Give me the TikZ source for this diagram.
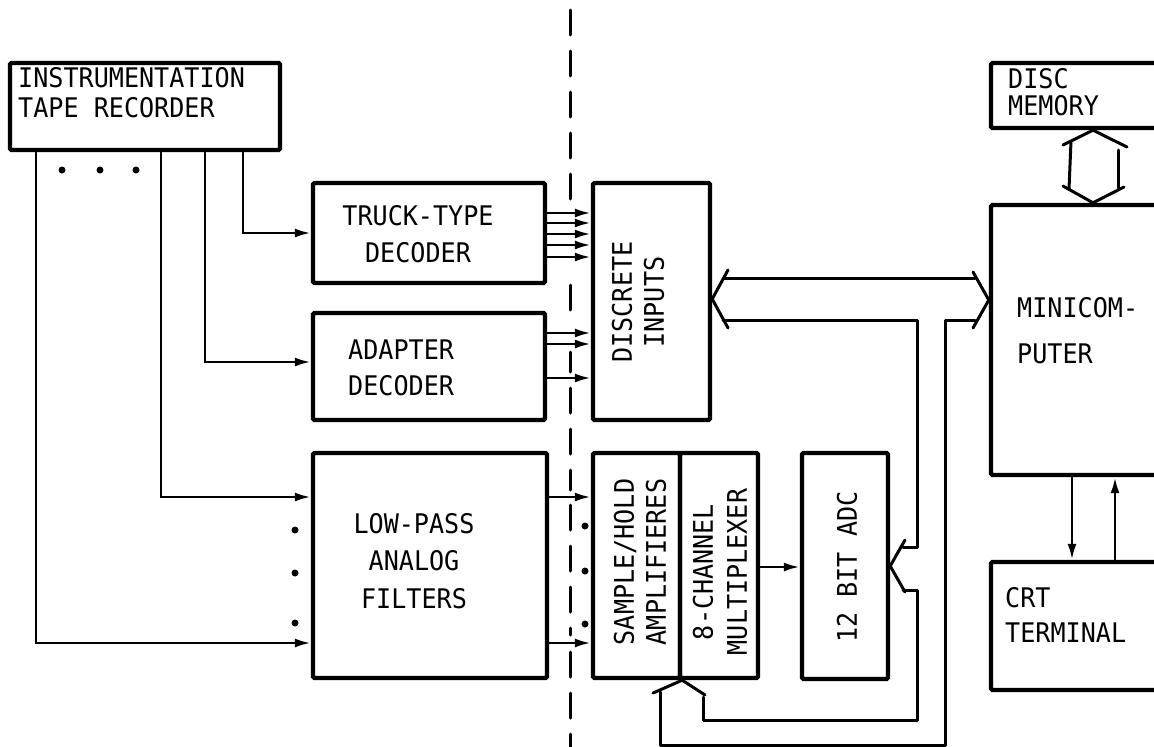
\documentclass[tikz,border=0pt]{standalone}
\usepackage{fontspec}
\setmainfont{DejaVu Sans Mono}[FakeStretch=0.93]
\usetikzlibrary{arrows.meta}

\tikzset{
  blk/.style={draw, line width=4.4pt, rounded corners=1.5pt, inner sep=0pt},
  lbl/.style={inner sep=0pt, font=\fontsize{27pt}{#1pt}\selectfont},
  lbl/.default=36,
  conn/.style={line width=2.6pt, -{Latex[length=16pt,width=9pt]}},
  bus/.style={line width=3pt, line cap=round, line join=round},
  sep/.style={line width=3pt, dash pattern=on 25pt off 16pt, line cap=round},
}

\begin{document}
\begin{tikzpicture}[x=1pt,y=-1pt]
\useasboundingbox (0,0) rectangle (1154,747);
\clip (0,0) rectangle (1154,747);
% blocks
\node[blk, minimum width=270pt, minimum height=87pt] (rec) at (145,106.5) {};
\node[blk, minimum width=232pt, minimum height=100pt] (truck) at (429,233) {};
\node[blk, minimum width=232pt, minimum height=107pt] (adapt) at (429,366.5) {};
\node[blk, minimum width=234pt, minimum height=225pt] (lpf) at (430,565.5) {};
\node[blk, minimum width=117pt, minimum height=237pt] (disc) at (651.5,301.5) {};
\node[blk, minimum width=87pt, minimum height=225pt] (sh) at (636.5,565.5) {};
\node[blk, minimum width=78pt, minimum height=225pt] (mux) at (719,565.5) {};
\node[blk, minimum width=86pt, minimum height=226pt] (adc) at (845,566) {};
\node[blk, minimum width=209pt, minimum height=270pt] (mini) at (1095.5,340) {};
\node[blk, minimum width=209pt, minimum height=65pt] (mem) at (1095.5,95.5) {};
\node[blk, minimum width=209pt, minimum height=128pt] (crt) at (1095.5,626) {};
% texts
\node[lbl=30, anchor=west, align=left] (rec-t) at (18,92.5) {INSTRUMENTATION\\TAPE RECORDER};
\node[lbl=37, align=center] (truck-t) at (418,234.5) {TRUCK-TYPE\\DECODER};
\node[lbl=36, anchor=west, align=left] (adapt-t) at (348,368) {ADAPTER\\DECODER};
\node[lbl=37.5, align=center] (lpf-t) at (414,561) {LOW-PASS\\ANALOG\\FILTERS};
\node[lbl=32, align=center, rotate=90] (disc-t) at (638,302) {DISCRETE\\INPUTS};
\node[lbl=32, align=center, rotate=90] (sh-t) at (640,562) {SAMPLE/HOLD\\AMPLIFIERES};
\node[lbl=34, align=center, rotate=90] (mux-t) at (720,572) {8-CHANNEL\\MULTIPLEXER};
\node[lbl, rotate=90] (adc-t) at (847,567) {12 BIT ADC};
\node[lbl=46, anchor=west, align=left] (mini-t) at (1017,330.5) {MINICOM-\\PUTER};
\node[lbl=27, anchor=west, align=left] (mem-t) at (1008,92) {DISC\\MEMORY};
\node[lbl=35, anchor=west, align=left] (crt-t) at (1005,614.5) {CRT\\TERMINAL};
% tape recorder outputs
\draw[conn] (rec.south -| 243,0) |- (truck.west);
\draw[conn] (rec.south -| 205,0) |- (adapt.west |- 0,362);
\draw[conn] (rec.south -| 161,0) |- (lpf.west |- 0,497);
\draw[conn] (rec.south -| 36,0) |- (lpf.west |- 0,643);
\foreach \x in {62,100,136} \fill (\x,170) circle (3.5pt);
\foreach \y in {530,573,623} \fill (295,\y) circle (3.5pt);
% into the computer interface
\foreach \y in {213,223,234,245,257} \draw[conn] (truck.east |- 0,\y) -- (disc.west |- 0,\y);
\foreach \y in {333,344,378} \draw[conn] (adapt.east |- 0,\y) -- (disc.west |- 0,\y);
\foreach \y in {497,643} \draw[conn] (lpf.east |- 0,\y) -- (sh.west |- 0,\y);
\foreach \y in {526,571,624} \fill (585,\y) circle (3.5pt);
\draw[conn] (mux.east |- 0,567) -- (adc.west |- 0,567);
% interface boundary
\foreach \a/\b in {10/205,285/325,352/372,388/490,505/635,652/747}
  \draw[sep] (570,\a) -- (570,\b);
% data bus
\draw[bus] (728,270) -- (disc.east |- 0,299) -- (728,328);
\draw[bus] (723,278) -- (975,278);
\draw[bus] (973,272) -- (mini.west |- 0,300) -- (973,328);
\draw[bus] (723,320) -- (917,320) -- (917,547) -- (903,547);
\draw[bus] (905,540) -- (adc.east |- 0,566) -- (905,592);
\draw[bus] (903,590) -- (917,590) -- (917,720) -- (703,720) -- (703,697);
\draw[bus] (653,693) -- (sh.south east) -- (705,695);
\draw[bus] (660,692) -- (660,745) -- (945,745) -- (945,320) -- (975,320);
% disc memory <-> minicomputer
\draw[bus] (1063,145) -- (mem.south -| 1093,0) -- (1127,147);
\draw[bus] (1063,186) -- (mini.north -| 1093,0) -- (1124,187);
\draw[bus] (1071,141) -- (1069,189);
\draw[bus] (1118,150) -- (1118,188);
% terminal
\draw[conn] (mini.south -| 1072,0) -- (crt.north -| 1072,0);
\draw[conn] (crt.north -| 1115,0) -- (mini.south -| 1115,0);
\end{tikzpicture}
\end{document}
